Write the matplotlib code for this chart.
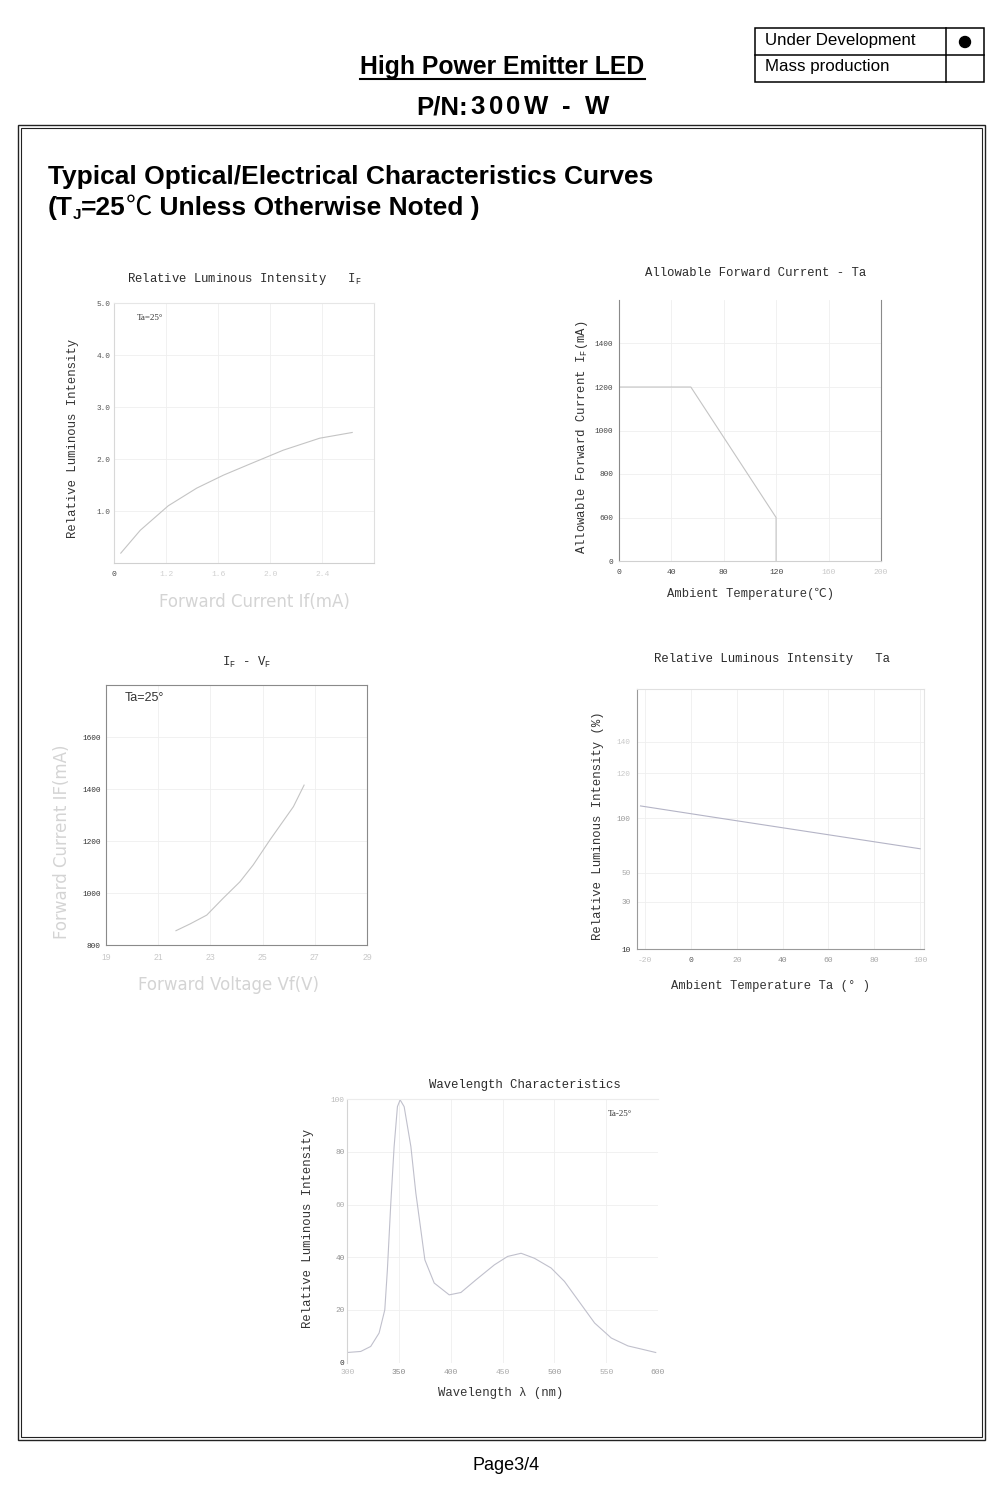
import numpy as np
import matplotlib
matplotlib.use("Agg")
import matplotlib.pyplot as plt
from matplotlib.patches import Rectangle, Circle

plt.rcParams["mathtext.fontset"] = "custom"
plt.rcParams["mathtext.rm"] = "Liberation Mono"
plt.rcParams["mathtext.it"] = "Liberation Mono"

MONO = "Liberation Mono"
SANS = "Liberation Sans"
SERIF = "Liberation Serif"
THIN = "DejaVu Sans"

# ---------------- data ----------------
# Chart 1: Relative Luminous Intensity vs IF
c1_current = [0.85, 1.0, 1.215, 1.434, 1.64, 1.84, 2.10, 2.38, 2.63]
c1_intensity = [0.19, 0.63, 1.10, 1.44, 1.69, 1.90, 2.17, 2.40, 2.51]
c1_xticks = [0.8, 1.2, 1.6, 2.0, 2.4]
c1_xticklabels = ["0", "1.2", "1.6", "2.0", "2.4"]
c1_yticks = [1.0, 2.0, 3.0, 4.0, 5.0]
c1_yticklabels = ["1.0", "2.0", "3.0", "4.0", "5.0"]

# Chart 2: Allowable Forward Current vs Ta
c2_temp = [0, 55, 120, 120]
c2_current = [1200, 1200, 600, 0]
c2_xticks = [0, 40, 80, 120, 160, 200]
c2_yticks = [0, 600, 800, 1000, 1200, 1400]

# Chart 3: IF - VF
c3_voltage = [21.68, 22.22, 22.86, 23.49, 24.13, 24.64, 25.28, 26.18, 26.59]
c3_current = [855, 881, 915, 980, 1043, 1108, 1204, 1332, 1415]
c3_xticks = [19, 21, 23, 25, 27, 29]
c3_yticks = [800, 1000, 1200, 1400, 1600]

# Chart 4: Relative Luminous Intensity vs Ta
c4_temp = [-22, 13, 100]
c4_intensity = [105.5, 100, 72]
c4_xticks = [-20, 0, 20, 40, 60, 80, 100]
c4_yticks = [10, 30, 50, 100, 120, 140]

# Chart 5: Wavelength characteristics
c5_wavelength = [300, 313, 322.6, 330.7, 336.2, 338.7, 342, 345.2, 348.4, 351,
                 354.9, 361.4, 366.2, 371, 374.9, 383.9, 398.4, 409.7, 424.2,
                 442, 454.8, 467.8, 480.7, 496.8, 509.7, 522.6, 538.8, 554.9,
                 571, 584, 597.8]
c5_intensity = [3.8, 4.2, 6.1, 11.2, 20.0, 35.2, 60.5, 82, 97.2, 99.8,
                97.2, 82, 64.3, 50.4, 39, 30.2, 25.7, 26.6, 31.4,
                37.1, 40.3, 41.5, 39.6, 35.9, 30.8, 23.8, 15, 9.3,
                6.3, 5.1, 3.8]
c5_xticks = [300, 350, 400, 450, 500, 550, 600]
c5_yticks = [0, 20, 40, 60, 80, 100]

# ---------------- figure ----------------
fig = plt.figure(figsize=(10, 14.96), dpi=100)
ov = fig.add_axes([0, 0, 1, 1])
ov.set_xlim(0, 1000)
ov.set_ylim(1496, 0)
ov.axis("off")
renderer = fig.canvas.get_renderer()


def add_chart(left, top, right, bottom):
    ax = fig.add_axes([left / 1000, 1 - bottom / 1496,
                       (right - left) / 1000, (bottom - top) / 1496])
    ax.set_facecolor("none")
    ax.tick_params(length=0)
    return ax


def style_spines(ax, colors):
    for side, c in colors.items():
        if c is None:
            ax.spines[side].set_visible(False)
        else:
            ax.spines[side].set_color(c)
            ax.spines[side].set_linewidth(0.8)


def color_labels(labels, colors):
    for lab, c in zip(labels, colors):
        lab.set_color(c)


CURVE = "#c4c4c4"
GRID = "#efefef"

# ---- Chart 1 ----
ax1 = add_chart(114.3, 303, 374.3, 563)
ax1.plot(c1_current, c1_intensity, color=CURVE, lw=0.8)
ax1.set_xlim(0.8, 2.8)
ax1.set_ylim(0, 5)
ax1.set_xticks(c1_xticks, c1_xticklabels, fontsize=5.8, family=MONO)
ax1.set_yticks(c1_yticks, c1_yticklabels, fontsize=5.6, family=MONO)
ax1.tick_params(axis="x", pad=6)
ax1.tick_params(axis="y", pad=3)
color_labels(ax1.get_xticklabels(), ["#444", "#d0d0d0", "#d0d0d0", "#d0d0d0", "#d0d0d0"])
color_labels(ax1.get_yticklabels(), ["#555"] * 5)
ax1.grid(True, color=GRID, lw=0.6)
style_spines(ax1, {"left": "#d8d8d8", "right": "#e0e0e0", "top": "#e6e6e6", "bottom": "#d0d0d0"})

# ---- Chart 2 ----
def c2_fwd(v):
    v = np.asarray(v, float)
    return np.where(v <= 600, 400 + v / 3.0, v)


def c2_inv(v):
    v = np.asarray(v, float)
    return np.where(v <= 600, (v - 400) * 3.0, v)


ax2 = add_chart(618.7, 300, 881, 561)
ax2.set_yscale("function", functions=(c2_fwd, c2_inv))
ax2.plot(c2_temp, c2_current, color=CURVE, lw=0.8)
ax2.set_xlim(0, 200)
ax2.set_ylim(0, 1600)
ax2.set_xticks(c2_xticks, [str(v) for v in c2_xticks], fontsize=5.8, family=MONO)
ax2.set_yticks(c2_yticks, [str(v) for v in c2_yticks], fontsize=5.6, family=MONO)
ax2.tick_params(axis="x", pad=6)
ax2.tick_params(axis="y", pad=4)
color_labels(ax2.get_xticklabels(), ["#444", "#444", "#444", "#444", "#c8c8c8", "#c8c8c8"])
color_labels(ax2.get_yticklabels(), ["#444"] * 6)
ax2.grid(True, color=GRID, lw=0.6)
style_spines(ax2, {"left": "#8a8a8a", "right": "#8a8a8a", "top": None, "bottom": "#d0d0d0"})

# ---- Chart 3 ----
ax3 = add_chart(106, 685, 367, 945)
ax3.plot(c3_voltage, c3_current, color=CURVE, lw=0.8)
ax3.set_xlim(19, 29)
ax3.set_ylim(800, 1800)
ax3.set_xticks(c3_xticks, [str(v) for v in c3_xticks], fontsize=6.2, family=SANS)
ax3.set_yticks(c3_yticks, [str(v) for v in c3_yticks], fontsize=5.6, family=MONO)
ax3.tick_params(axis="x", pad=6)
ax3.tick_params(axis="y", pad=4)
color_labels(ax3.get_xticklabels(), ["#c8c8c8"] * 6)
color_labels(ax3.get_yticklabels(), ["#333"] * 5)
ax3.grid(True, color=GRID, lw=0.6)
style_spines(ax3, {"left": "#8a8a8a", "right": "#8a8a8a", "top": "#8a8a8a", "bottom": "#8a8a8a"})

# ---- Chart 4 ----
C4_KNOT_VALS = [0, 10, 30, 50, 100, 120, 140, 200]
C4_KNOT_POS = [-23.3, 0, 47.3, 76.3, 130.7, 175.7, 207.3, 302]


def c4_fwd(v):
    return np.interp(np.asarray(v, float), C4_KNOT_VALS, C4_KNOT_POS)


def c4_inv(p):
    return np.interp(np.asarray(p, float), C4_KNOT_POS, C4_KNOT_VALS)


ax4 = add_chart(637.3, 689, 924, 949)
ax4.set_yscale("function", functions=(c4_fwd, c4_inv))
ax4.plot(c4_temp, c4_intensity, color="#b4b4c6", lw=0.8)
ax4.set_xlim(-23.4, 101.7)
ax4.set_ylim(10, 173.4)
ax4.set_xticks(c4_xticks, [str(v) for v in c4_xticks], fontsize=5.8, family=MONO)
ax4.set_yticks(c4_yticks, [str(v) for v in c4_yticks], fontsize=5.6, family=MONO)
ax4.tick_params(axis="x", pad=6)
ax4.tick_params(axis="y", pad=5)
color_labels(ax4.get_xticklabels(), ["#c0c0c0", "#555", "#aaa", "#888", "#999", "#aaa", "#bbb"])
color_labels(ax4.get_yticklabels(), ["#333", "#999", "#aaa", "#999", "#c8c8c8", "#c8c8c8"])
ax4.grid(True, color=GRID, lw=0.6)
style_spines(ax4, {"left": "#9a9a9a", "right": "#e4e4e4", "top": "#e0e0e0", "bottom": "#9a9a9a"})

# ---- Chart 5 ----
ax5 = add_chart(347.3, 1099.3, 658, 1362.5)
ax5.plot(c5_wavelength, c5_intensity, color="#c0c0cc", lw=0.8)
ax5.set_xlim(300, 600)
ax5.set_ylim(0, 100)
ax5.set_xticks(c5_xticks, [str(v) for v in c5_xticks], fontsize=5.8, family=MONO)
ax5.set_yticks(c5_yticks, [str(v) for v in c5_yticks], fontsize=5.6, family=MONO)
ax5.tick_params(axis="x", pad=5)
ax5.tick_params(axis="y", pad=2)
color_labels(ax5.get_xticklabels(), ["#bbb", "#888", "#999", "#aaa", "#999", "#aaa", "#999"])
color_labels(ax5.get_yticklabels(), ["#333", "#999", "#888", "#aaa", "#999", "#bbb"])
ax5.grid(True, color=GRID, lw=0.6)
style_spines(ax5, {"left": "#d4d4d4", "right": None, "top": "#ececec", "bottom": None})

# ---------------- chart texts ----------------
TC = "#2a2a2a"
FS = 8.8
LIGHT = "#d4d4d4"
ov.text(127, 279, r"Relative Luminous Intensity   I$_\mathrm{F}$", family=MONO,
        fontsize=FS, color=TC, ha="left", va="center")
ov.text(73, 438, "Relative Luminous Intensity", family=MONO, fontsize=FS, color="#333",
        rotation=90, ha="center", va="center")
ov.text(254, 602, "Forward Current If(mA)", family=THIN, fontsize=12, color=LIGHT,
        ha="center", va="center")
ov.text(137, 318, "Ta=25°", family=SERIF, fontsize=6.5, color="#333", ha="left", va="center")

ov.text(645, 273, "Allowable Forward Current - Ta", family=MONO, fontsize=FS, color=TC,
        ha="left", va="center")
ov.text(582, 437, r"Allowable Forward Current I$_\mathrm{F}$(mA)", family=MONO, fontsize=FS,
        color="#333", rotation=90, ha="center", va="center")
ov.text(751, 594, "Ambient Temperature(℃)", family=[MONO, "Noto Sans CJK SC"], fontsize=FS,
        color="#333", ha="center", va="center")

ov.text(246, 662, r"I$_\mathrm{F}$ - V$_\mathrm{F}$", family=MONO, fontsize=FS, color=TC,
        ha="center", va="center")
ov.text(62, 842, "Forward Current IF(mA)", family=THIN, fontsize=12, color=LIGHT,
        rotation=90, ha="center", va="center")
ov.text(229, 985, "Forward Voltage Vf(V)", family=THIN, fontsize=12, color=LIGHT,
        ha="center", va="center")
ov.text(125, 698, "Ta=25°", family=SANS, fontsize=9, color="#333", ha="left", va="center")

ov.text(654, 659, "Relative Luminous Intensity   Ta", family=MONO, fontsize=FS, color=TC,
        ha="left", va="center")
ov.text(598, 826, "Relative Luminous Intensity (%)", family=MONO, fontsize=FS, color="#333",
        rotation=90, ha="center", va="center")
ov.text(771, 986, "Ambient Temperature Ta (° )", family=MONO, fontsize=FS, color="#333",
        ha="center", va="center")

ov.text(429, 1085, "Wavelength Characteristics", family=MONO, fontsize=FS, color=TC,
        ha="left", va="center")
ov.text(308, 1228, "Relative Luminous Intensity", family=MONO, fontsize=FS, color="#333",
        rotation=90, ha="center", va="center")
ov.text(501, 1393, "Wavelength λ (nm)", family=[MONO, "DejaVu Sans Mono"], fontsize=FS,
        color="#333", ha="center", va="center")
ov.text(608, 1114, "Ta-25°", family=SERIF, fontsize=6.5, color="#333", ha="left", va="center")

# ---------------- page decorations ----------------
def text_w(s, **kw):
    t = ov.text(0, 0, s, **kw)
    w = t.get_window_extent(renderer).width
    t.remove()
    return w


def chain(x, y, parts):
    for s, dy, kw in parts:
        t = ov.text(x, y + dy, s, va="baseline", ha="left", **kw)
        x += t.get_window_extent(renderer).width
    return x


def tracked(x, y, s, track, **kw):
    bar = text_w("|", **kw)
    for i, ch in enumerate(s):
        if ch == " ":
            continue
        off = text_w(s[:i] + "|", **kw) - bar if i > 0 else 0
        ov.text(x + off + i * track, y, ch, va="baseline", ha="left", **kw)


HB = dict(family=SANS, fontweight="bold", color="black")
ov.text(502, 74, "High Power Emitter LED", fontsize=17.8, ha="center", va="baseline", **HB)
ov.plot([360, 645], [78.5, 78.5], color="black", lw=1.5)
xe = chain(416, 114, [("P/N:", 0, dict(fontsize=18.5, **HB))])
tracked(xe + 3, 114, "300W - W", 3.5, fontsize=18.5, **HB)

# status table
ov.add_patch(Rectangle((755, 28), 229, 54, fill=False, ec="black", lw=1.1))
ov.plot([755, 984], [55, 55], color="black", lw=1.1)
ov.plot([946, 946], [28, 82], color="black", lw=1.1)
ov.add_patch(Circle((965, 42), 5.5, color="black"))
ov.text(765, 45, "Under Development", family=SANS, fontsize=12.2, color="black",
        ha="left", va="baseline")
ov.text(765, 71, "Mass production", family=SANS, fontsize=12.2, color="black",
        ha="left", va="baseline")

# main frame (double line)
ov.add_patch(Rectangle((18, 125), 967, 1315, fill=False, ec="#222", lw=1.0))
ov.add_patch(Rectangle((21, 128), 961, 1309, fill=False, ec="#222", lw=0.8))

HF = 19
ov.text(48, 184, "Typical Optical/Electrical Characteristics Curves", fontsize=HF,
        ha="left", va="baseline", **HB)
chain(48, 215, [
    ("(T", 0, dict(fontsize=HF, **HB)),
    ("J", 4, dict(fontsize=11, **HB)),
    ("=25", 0, dict(fontsize=HF, **HB)),
    ("℃", 0, dict(fontsize=HF, family="Noto Sans CJK SC", color="black")),
    (" Unless Otherwise Noted )", 0, dict(fontsize=HF, **HB)),
])

ov.text(506, 1466, "Page3/4", family=SANS, fontsize=13, color="black", ha="center", va="center")

fig.savefig("out.png", dpi=100)
